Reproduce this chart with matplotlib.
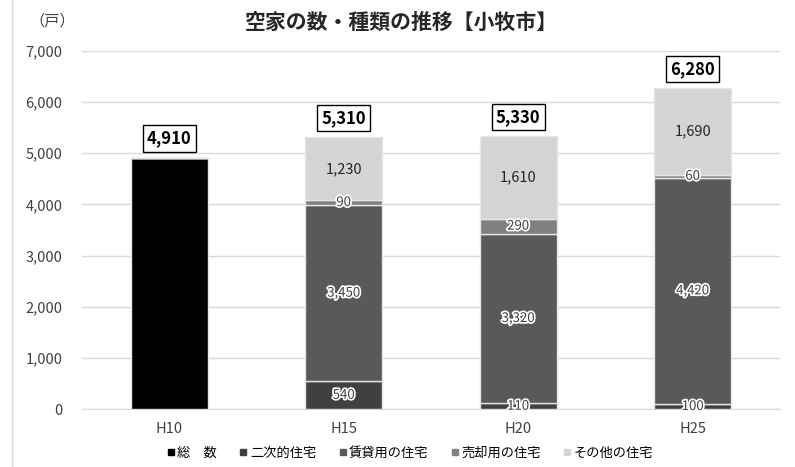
import matplotlib

matplotlib.use("Agg")
import matplotlib.pyplot as plt
import matplotlib.patheffects as pe
from matplotlib.lines import Line2D
import numpy as np

plt.rcParams["font.family"] = ["Noto Sans CJK JP", "DejaVu Sans"]

# --- datos ---
years = ["H10", "H15", "H20", "H25"]
total_only = [4910, 0, 0, 0]
nijiteki = [0, 540, 110, 100]
chintai = [0, 3450, 3320, 4420]
baikyaku = [0, 90, 290, 60]
sonota = [0, 1230, 1610, 1690]
totals = [4910, 5310, 5330, 6280]

series = [
    ("総　数", total_only, "#000000"),
    ("二次的住宅", nijiteki, "#404040"),
    ("賃貸用の住宅", chintai, "#595959"),
    ("売却用の住宅", baikyaku, "#808080"),
    ("その他の住宅", sonota, "#d4d4d4"),
]

fig = plt.figure(figsize=(7.95, 4.67), dpi=100)
ax = fig.add_axes([0.103, 0.124, 0.878, 0.767])

x = np.arange(len(years))
width = 0.44
bottom = np.zeros(len(years))
halo = [pe.withStroke(linewidth=2.5, foreground="white")]
for name, vals, col in series:
    vals = np.array(vals, dtype=float)
    ax.bar(x, vals, width, bottom=bottom, color=col, edgecolor="#e6e6e6",
           linewidth=1, zorder=3, label=name)
    if name != "総　数":
        for i, v in enumerate(vals):
            if v <= 0:
                continue
            if name == "その他の住宅":
                ax.text(x[i], bottom[i] + v / 2, f"{int(v):,}", ha="center",
                        va="center", fontsize=10.5, color="#262626", zorder=5)
            else:
                ax.text(x[i], bottom[i] + v / 2, f"{int(v):,}", ha="center",
                        va="center", fontsize=9.5, color="#404040", zorder=5,
                        path_effects=halo)
    bottom += vals

for i, t in enumerate(totals):
    top = bottom[i]
    ax.annotate(f"{t:,}", (x[i], top), xytext=(0, 14), textcoords="offset points",
                ha="center", va="center", fontsize=12, fontweight="bold",
                bbox=dict(boxstyle="square,pad=0.25", fc="white", ec="black", lw=1),
                zorder=6)

ax.set_ylim(0, 7000)
ax.set_xlim(-0.5, len(years) - 0.5)
ax.set_yticks(range(0, 7001, 1000))
ax.set_yticklabels([f"{v:,}" for v in range(0, 7001, 1000)], fontsize=10.5, color="#404040")
ax.set_xticks(x)
ax.set_xticklabels(years, fontsize=10.5, color="#404040")
ax.tick_params(length=0, pad=14)
ax.tick_params(axis="x", pad=9)
ax.grid(axis="y", color="#d9d9d9", linewidth=1, zorder=0)
for s in ["top", "right", "left"]:
    ax.spines[s].set_visible(False)
ax.spines["bottom"].set_color("#d9d9d9")

fig.text(0.505, 0.952, "空家の数・種類の推移【小牧市】", ha="center", va="center",
         fontsize=15, fontweight="bold", color="#262626")
fig.text(0.066, 0.955, "（戸）", ha="center", va="center", fontsize=11, color="#404040")

handles = [Line2D([], [], marker="s", linestyle="none", markersize=5, color=c)
           for _, _, c in series]
fig.legend(handles, [n for n, _, _ in series], loc="center", ncol=5,
           bbox_to_anchor=(0.515, 0.03), frameon=False, fontsize=9.5,
           handletextpad=0.1, columnspacing=1.6, handlelength=0.8)

fig.add_artist(Line2D([0.015, 0.015], [0, 1], color="#d9d9d9", lw=1,
                      transform=fig.transFigure))

fig.savefig("out.png", dpi=100)
